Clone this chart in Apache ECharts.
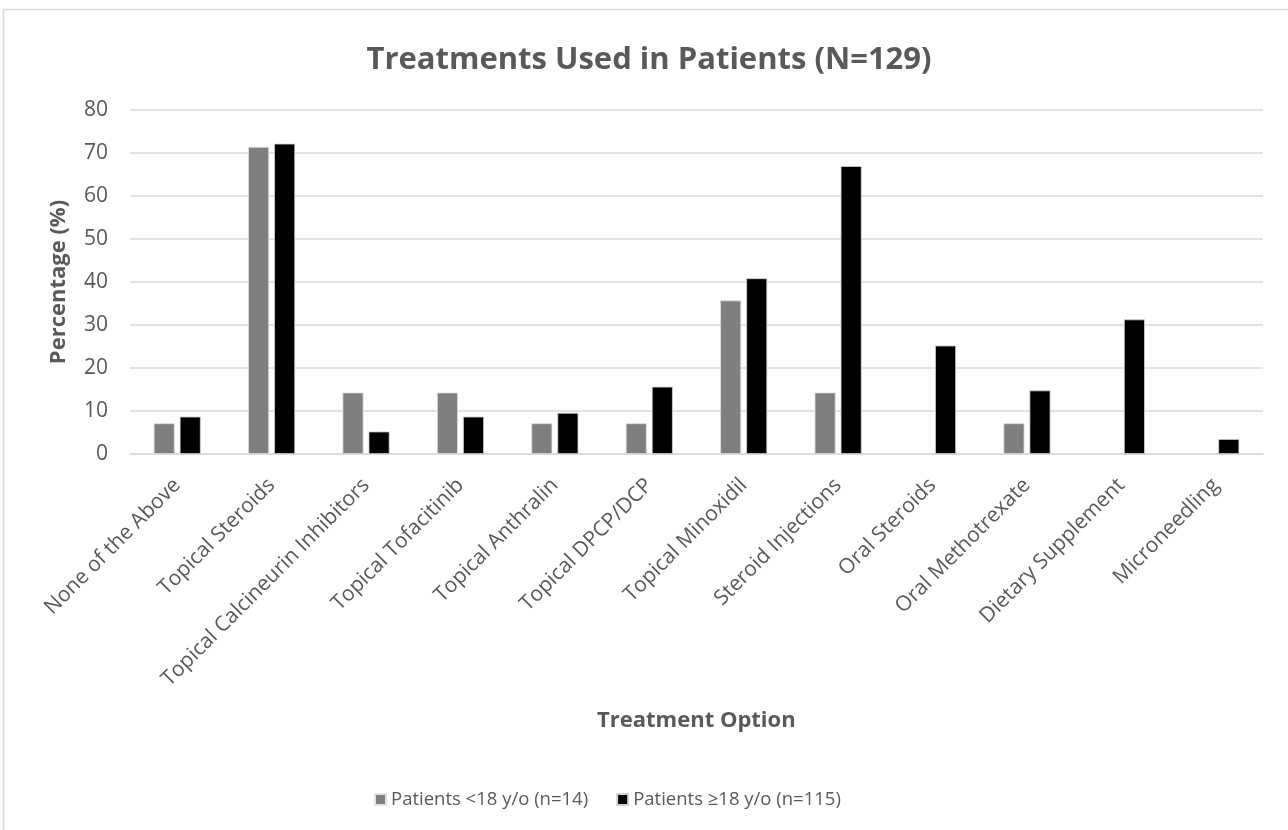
<!DOCTYPE html>
<html>
<head>
<meta charset="utf-8">
<script src="https://cdn.jsdelivr.net/npm/echarts@6/dist/echarts.min.js"></script>
<style>
  html, body { margin: 0; padding: 0; background: #fff; }
  #chart { width: 1288px; height: 830px; }
</style>
</head>
<body>
<div id="chart"></div>
<script>
// Treatment categories on the x axis
const categories = [
  'None of the Above', 'Topical Steroids', 'Topical Calcineurin Inhibitors',
  'Topical Tofacitinib', 'Topical Anthralin', 'Topical DPCP/DCP',
  'Topical Minoxidil', 'Steroid Injections', 'Oral Steroids',
  'Oral Methotrexate', 'Dietary Supplement', 'Microneedling'
];

// Percentage of patients under 18 (n=14)
const under18 = [7.14, 71.43, 14.29, 14.29, 7.14, 7.14, 35.71, 14.29, 0, 7.14, 0, 0];

// Percentage of patients 18 and older (n=115)
const adults = [8.70, 72.17, 5.22, 8.70, 9.57, 15.65, 40.87, 66.96, 25.22, 14.78, 31.30, 3.48];

const seriesNames = ['Patients <18 y/o (n=14)', 'Patients \u226518 y/o (n=115)'];
const yTicks = { min: 0, max: 80, interval: 10 };

const FONT = '"Open Sans", "Noto Sans", sans-serif';
const TXT = '#595959';

const chart = echarts.init(document.getElementById('chart'), null, { renderer: 'canvas' });
chart.setOption({
  animation: false,
  backgroundColor: '#fff',
  textStyle: { fontFamily: FONT },
  title: {
    text: 'Treatments Used in Patients (N=129)',
    left: 644, top: 40, textAlign: 'center',
    textStyle: { fontFamily: FONT, fontSize: 31, fontWeight: 'bold', color: TXT }
  },
  graphic: [
    {
      type: 'rect', silent: true, z: -1,
      shape: { x: 3.5, y: 9.5, width: 1300, height: 840 },
      style: { fill: 'none', stroke: '#d9d9d9', lineWidth: 1.5 }
    },
    {
      type: 'text', left: 597, top: 710,
      style: { text: 'Treatment Option', font: 'bold 22px ' + FONT, fill: TXT }
    }
  ],
  legend: {
    data: seriesNames,
    left: 369, top: 785,
    itemWidth: 11, itemHeight: 11, itemGap: 28,
    icon: 'rect',
    textStyle: { fontFamily: FONT, fontSize: 18.5, color: TXT }
  },
  grid: { left: 130, right: 25, top: 110, bottom: 376, containLabel: false },
  xAxis: {
    type: 'category',
    data: categories,
    axisLine: { lineStyle: { color: '#d9d9d9', width: 1.5 } },
    axisTick: { show: false },
    axisLabel: {
      interval: 0, rotate: 45, margin: 28,
      fontFamily: FONT, fontSize: 21, color: TXT
    }
  },
  yAxis: {
    type: 'value',
    min: yTicks.min, max: yTicks.max, interval: yTicks.interval,
    name: 'Percentage (%)',
    nameLocation: 'middle', nameGap: 60,
    nameTextStyle: { fontFamily: FONT, fontSize: 22, fontWeight: 'bold', color: TXT },
    axisLine: { show: false },
    axisTick: { show: false },
    axisLabel: { fontFamily: FONT, fontSize: 21, color: TXT, margin: 22 },
    splitLine: { lineStyle: { color: '#d9d9d9', width: 1.5 } }
  },
  series: [
    {
      name: seriesNames[0], type: 'bar', data: under18,
      barWidth: 21, barGap: '24%',
      itemStyle: { color: '#7f7f7f', borderColor: '#e0e0e0', borderWidth: 0.8 }
    },
    {
      name: seriesNames[1], type: 'bar', data: adults,
      barWidth: 21,
      itemStyle: { color: '#000000', borderColor: '#d0d0d0', borderWidth: 0.8 }
    }
  ]
});
</script>
</body>
</html>
